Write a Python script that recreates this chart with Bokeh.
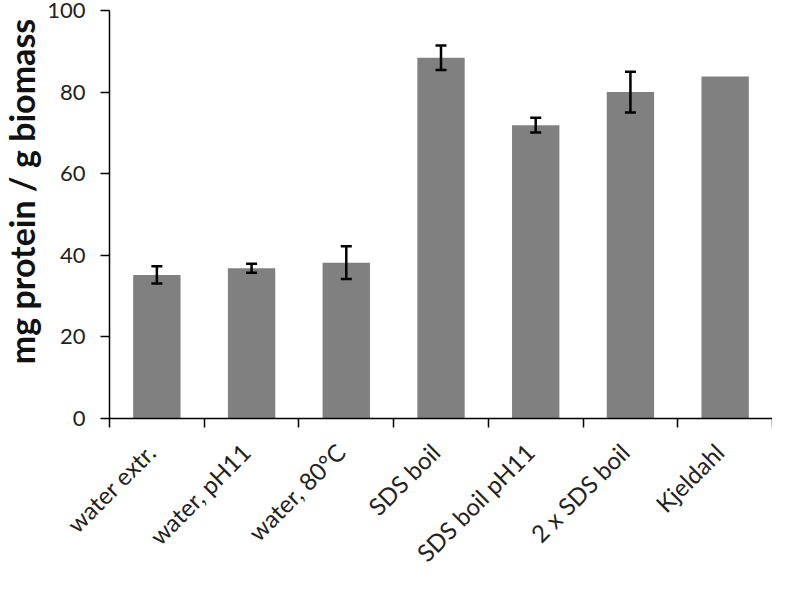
import math
from bokeh.plotting import figure
from bokeh.layouts import column, row
from bokeh.models import (ColumnDataSource, Range1d, FixedTicker, Whisker,
                          TeeHead)
from bokeh.core.properties import value
from bokeh.embed import file_html
from bokeh.resources import INLINE

categories = ["water extr.", "water, pH11", "water, 80°C", "SDS boil",
              "SDS boil pH11", "2 x SDS boil", "Kjeldahl"]
protein = [35.2, 36.8, 38.2, 88.4, 71.9, 80.0, 83.8]
errors = [2.1, 1.1, 4.0, 3.0, 1.8, 5.0, None]
y_ticks = [0, 20, 40, 60, 80, 100]
y_title = "mg protein / g biomass"

FONT = "Lato"
W, H = 772, 574
LEFT, TOP, BOTTOM = 109, 10, 418
TITLE_W = 42
MAIN_H = BOTTOM + 12

n = len(categories)
xs = [i + 0.5 for i in range(n)]
src = ColumnDataSource(dict(x=xs, top=protein))

ex = [x for x, e in zip(xs, errors) if e is not None]
eu = [v + e for v, e in zip(protein, errors) if e is not None]
el = [v - e for v, e in zip(protein, errors) if e is not None]
esrc = ColumnDataSource(dict(x=ex, upper=eu, lower=el))

xr = Range1d(0, n)
yr = Range1d(0, 100)

def clean(f):
    f.xgrid.visible = False
    f.ygrid.visible = False
    f.outline_line_color = None
    f.background_fill_color = "white"
    f.border_fill_color = "white"

# ---- main plot ----
p = figure(width=W - TITLE_W, height=MAIN_H, x_range=xr, y_range=yr,
           output_backend="svg", toolbar_location=None,
           min_border_left=LEFT - TITLE_W, min_border_right=0,
           min_border_top=TOP, min_border_bottom=MAIN_H - BOTTOM)
clean(p)

p.vbar(x="x", top="top", width=0.5, source=src, fill_color="#808080",
       line_color=None)

wh = Whisker(base="x", upper="upper", lower="lower", source=esrc,
             line_color="black", line_width=2.5, level="overlay",
             upper_head=TeeHead(size=11, line_width=2.5, line_color="black"),
             lower_head=TeeHead(size=11, line_width=2.5, line_color="black"))
p.add_layout(wh)

xa = p.xaxis[0]
xa.ticker = FixedTicker(ticks=[], minor_ticks=list(range(n + 1)))
xa.major_tick_out = 0
xa.major_tick_in = 0
xa.minor_tick_out = 9
xa.minor_tick_in = 0
xa.minor_tick_line_color = "black"
xa.minor_tick_line_width = 1.5
xa.axis_line_color = "black"
xa.axis_line_width = 1.5

ya = p.yaxis[0]
ya.ticker = FixedTicker(ticks=y_ticks, minor_ticks=[])
ya.major_tick_out = 9
ya.major_tick_in = 0
ya.minor_tick_out = 0
ya.major_tick_line_color = "black"
ya.major_tick_line_width = 1.5
ya.axis_line_color = "black"
ya.axis_line_width = 1.5
ya.major_label_text_font = FONT
ya.major_label_text_font_size = "22px"
ya.major_label_text_color = "#222222"
ya.major_label_standoff = 15

# ---- y-axis title panel (left) ----
t = figure(width=TITLE_W, height=MAIN_H, x_range=Range1d(0, TITLE_W), y_range=yr,
           output_backend="svg", toolbar_location=None,
           x_axis_location=None, y_axis_location=None,
           min_border_left=0, min_border_right=0,
           min_border_top=TOP, min_border_bottom=MAIN_H - BOTTOM)
clean(t)
t.text(x=[21], y=[50], text=[y_title], angle=math.pi / 2,
       text_align="center", text_baseline="middle", y_offset=-23,
       text_font=value(FONT), text_font_style="bold",
       text_font_size="34px", text_color="#111111")

# ---- category label panel (below), same data scale as the main x axis ----
scale = (W - LEFT) / n
qxr = Range1d(-LEFT / scale, n)
lsrc = ColumnDataSource(dict(x=xs, y=[1] * n, label=categories))
q = figure(width=W, height=H - MAIN_H, x_range=qxr, y_range=Range1d(0, 1),
           output_backend="svg", toolbar_location=None,
           x_axis_location=None, y_axis_location=None,
           min_border_left=0, min_border_right=0,
           min_border_top=0, min_border_bottom=0)
clean(q)
q.text(x="x", y="y", text="label", source=lsrc, angle=math.pi / 4,
       text_align="right", text_baseline="top", x_offset=-16, y_offset=7,
       text_font=value(FONT), text_font_size="24px", text_color="#222222")

layout = column(row(t, p, spacing=0), q, spacing=0)
open("out.html", "w").write(file_html(layout, INLINE))
